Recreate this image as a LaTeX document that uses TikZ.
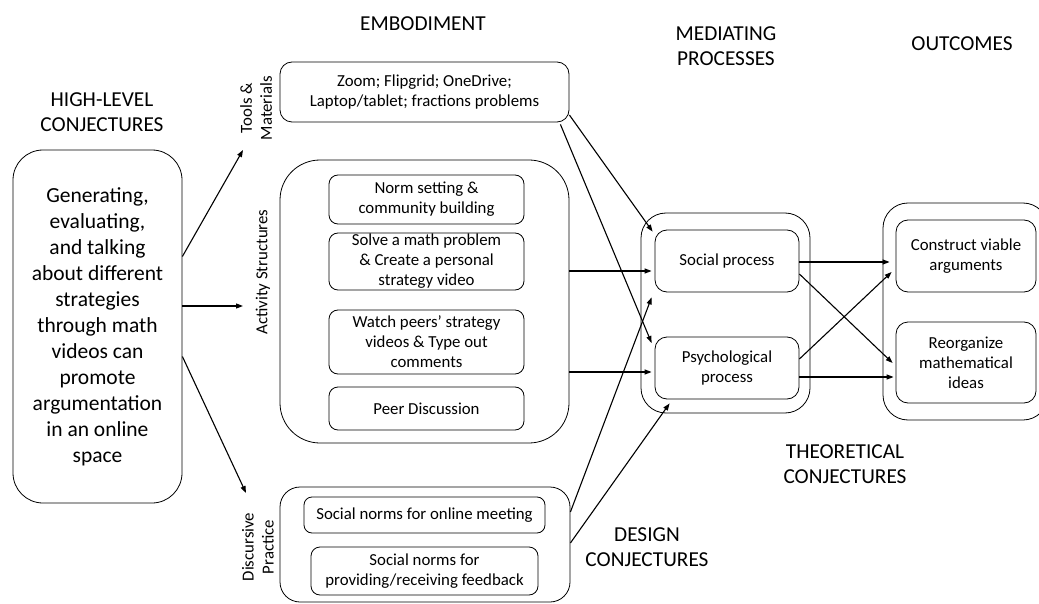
\documentclass[tikz,border=0pt]{standalone}
\usepackage{fontspec}
\setmainfont{Carlito}
\usetikzlibrary{arrows.meta,calc}
\begin{document}
\begin{tikzpicture}[x=1pt,y=-1pt,
  box/.style={draw, line width=0.8pt, align=center, inner sep=0pt, font=\fontsize{16.8}{20}\selectfont},
  big/.style={box, font=\fontsize{21.5}{26}\selectfont},
  title/.style={align=center, inner sep=0pt, font=\fontsize{21.3}{25.5}\selectfont},
  side/.style={align=center, inner sep=0pt, rotate=90, font=\fontsize{16.8}{20}\selectfont},
  arr/.style={line width=1.1pt, -{Triangle[length=7pt,width=5pt]}},
  ln/.style={line width=1.1pt}
]
\useasboundingbox (0,0) rectangle (1039,604);
\clip (0,0) rectangle (1039,604);
\fill[white] (0,0) rectangle (1039,604);

% titles
\node[title] (thl) at (102,112) {HIGH-LEVEL\\CONJECTURES};
\node[title] (temb) at (423,24) {EMBODIMENT};
\node[title] (tmed) at (726,46) {MEDIATING\\PROCESSES};
\node[title] (tout) at (962,44) {OUTCOMES};
\node[title] (tthe) at (845,464) {THEORETICAL\\CONJECTURES};
\node[title] (tdes) at (647,547) {DESIGN\\CONJECTURES};

% main box
\node[big, rounded corners=30pt, minimum width=169pt, minimum height=353pt] (main) at (97.5,326.5)
  {Generating,\\evaluating,\\and talking\\about different\\strategies\\through math\\videos can\\promote\\argumentation\\in an online\\space};

% side labels
\node[side] (ltm) at (256,108) {Tools \&\\Materials};
\node[side] (las) at (263,272) {Activity Structures};
\node[side] (ldp) at (258,547) {Discursive\\Practice};

% embodiment boxes
\node[box, rounded corners=12pt, minimum width=289pt, minimum height=60pt] (tools) at (424.5,92)
  {Zoom; Flipgrid; OneDrive;\\Laptop/tablet; fractions problems};
\node[box, rounded corners=40pt, minimum width=289pt, minimum height=283pt] (act) at (424.5,301.5) {};
\node[box, rounded corners=9pt, minimum width=195pt, minimum height=49pt] (norm) at (426.5,199.5)
  {Norm setting \&\\community building};
\node[box, rounded corners=9pt, minimum width=195pt, minimum height=57pt] (solve) at (426.5,261.5)
  {Solve a math problem\\\& Create a personal\\strategy video};
\node[box, rounded corners=9pt, minimum width=195pt, minimum height=64pt] (watch) at (426.5,342)
  {Watch peers’ strategy\\videos \& Type out\\comments};
\node[box, rounded corners=9pt, minimum width=195pt, minimum height=43pt] (peer) at (426.5,408.5)
  {Peer Discussion};
\node[box, rounded corners=20pt, minimum width=290pt, minimum height=115pt] (disc) at (425,544.5) {};
\node[box, rounded corners=8pt, minimum width=241pt, minimum height=36pt] (snon) at (424.5,515)
  {Social norms for online meeting};
\node[box, rounded corners=9pt, minimum width=227pt, minimum height=48pt] (snfb) at (424.5,571)
  {Social norms for\\providing/receiving feedback};

% mediating
\node[box, rounded corners=25pt, minimum width=169pt, minimum height=200pt] (med) at (725.5,313) {};
\node[box, rounded corners=12pt, minimum width=144pt, minimum height=62pt] (soc) at (727,261) {Social process};
\node[box, rounded corners=12pt, minimum width=144pt, minimum height=62pt] (psy) at (727,368) {Psychological\\process};

% outcomes
\node[box, rounded corners=25pt, minimum width=165pt, minimum height=217pt] (out) at (965.5,311.5) {};
\node[box, rounded corners=12pt, minimum width=140pt, minimum height=72pt] (con) at (966,256) {Construct viable\\arguments};
\node[box, rounded corners=12pt, minimum width=140pt, minimum height=81pt] (reo) at (966,362.5) {Reorganize\\mathematical\\ideas};

% arrow end coordinates at the side labels
\coordinate (e1) at (243,150);
\coordinate (e2) at (243,306);
\coordinate (e3) at (246,493);

% high-level arrows
\draw[arr] ([yshift=70pt]main.east) -- (e1);
\draw[arr] ([yshift=20.5pt]main.east) -- (e2);
\draw[arr] ([yshift=-30pt]main.east) -- (e3);

% design conjecture arrows
\draw[arr] ([yshift=-23pt]tools.east) -- ([xshift=-2pt,yshift=-2pt]soc.north west);
\draw[arr] ([xshift=-9pt,yshift=-2pt]tools.south east) -- ([xshift=-3pt,yshift=25pt]psy.west);
\draw[arr] ([yshift=30.5pt]act.east) -- ([xshift=-3pt,yshift=-10pt]soc.west);
\draw[arr] ([yshift=-70.5pt]act.east) -- ([xshift=-3pt,yshift=-4pt]psy.west);
\draw[arr] ([yshift=32.5pt]disc.east) -- ([xshift=-3pt,yshift=-5pt]soc.south west);
\draw[arr] ([yshift=1.5pt]disc.east) -- ([xshift=15pt,yshift=-4pt]psy.south west);

% theoretical conjecture arrows
\draw[arr] ([yshift=-1pt]soc.east) -- ([xshift=-6pt,yshift=-6pt]con.west);
\draw[arr] ([yshift=-13pt]soc.east) -- ([xshift=-3pt,yshift=-0.5pt]reo.west);
\draw[arr] ([yshift=9pt]psy.east) -- ([xshift=-4pt,yshift=-16pt]con.west);
\draw[arr] ([yshift=-9pt]psy.east) -- ([xshift=-2pt,yshift=-14.5pt]reo.west);
\end{tikzpicture}
\end{document}
